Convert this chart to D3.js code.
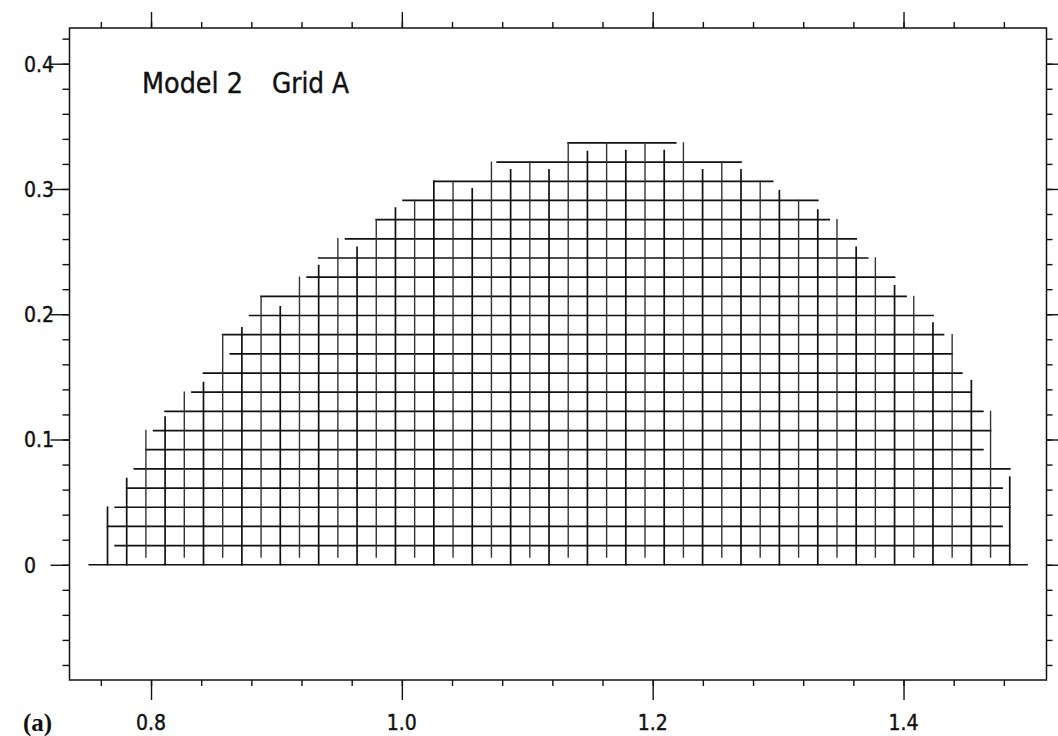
<!DOCTYPE html>
<html>
<head>
<meta charset="utf-8">
<script src="https://cdn.jsdelivr.net/npm/d3@7"></script>
<style>
    html, body { margin: 0; padding: 0; background: #fff; }
    svg { display: block; }
    .lbl { font-family: 'DejaVu Sans Condensed', 'DejaVu Sans', sans-serif; font-stretch: condensed; fill: #111; stroke: #111; stroke-width: 0.4; }
    .axis line { stroke: #111; stroke-width: 1.4; }
    .axis path { display: none; }
</style>
</head>
<body>
<svg id="chart"></svg>
<script>
'use strict';

/*
    Data  (grid lines in cell index units, one cell = (X_END - X_START) / CELLS)
*/

const X_START = 0.75;
const X_END   = 1.5;
const CELLS   = 49;

// horizontal lines, rows j = 1 .. 22
const ROW_START = [1.4, 1.0, 1.4, 2.0, 2.4, 3.0, 3.4, 4.0, 5.4, 6.0, 7.4,
                   7.0, 8.4, 9.0, 11.4, 12.0, 13.4, 15.0, 16.4, 18.0, 21.3, 25.0];
const ROW_END   = [48, 47.6, 48, 47.6, 48, 46.6, 47, 46.6, 46, 45.5, 45,
                   44.55, 44, 42.6, 42, 40.6, 40, 38.6, 38, 35.65, 34, 30.6];

// vertical lines, columns i = 1 .. 48
const COL_TOP  = [3, 4.5, 7, 7.7, 9, 9.5, 12, 12.35, 14, 13.45,
                  15, 15.6, 17, 16.55, 18, 18.6, 19, 20, 20, 19.6,
                  21, 20.6, 21, 20.6, 22, 21.55, 22, 21.6, 22, 21.6,
                  22, 20.6, 21, 20.6, 20, 19.5, 19, 18.5, 18, 16.55,
                  16, 14.55, 14, 12.6, 12, 9.6, 8, 4.57];
const COL_BASE = [0, 0, 0.4, 0, 0.4, 0, 0.4, 0, 0.4, 0,
                  0.4, 0, 0.4, 0, 0.4, 0, 0.4, 0, 0.4, 0,
                  0.4, 0, 0.4, 0, 0.4, 0, 0.4, 0, 0.4, 0,
                  0.4, 0, 0.4, 0, 0.4, 0, 0.4, 0, 0.4, 0,
                  0.4, 0, 0.4, 0, 0.4, 0, 0.4, 0];

// line along y = 0
const BASE_LINE = [0.05, 48.9];

const X_MAJOR  = [0.8, 1.0, 1.2, 1.4];
const X_LABELS = ['0.8', '1.0', '1.2', '1.4'];
const Y_MAJOR  = [0, 0.1, 0.2, 0.3, 0.4];
const Y_LABELS = ['0', '0.1', '0.2', '0.3', '0.4'];

const TITLE = ['Model 2', 'Grid A'];
const PANEL = '(a)';

/*
    Constants
*/

const WIDTH  = 1058;
const HEIGHT = 736;

const FRAME = Object.freeze({
    LEFT   : 69.5,
    RIGHT  : 1046.5,
    TOP    : 28,
    BOTTOM : 680
});

const CELL = (X_END - X_START) / CELLS;

const SVG = d3.select('#chart')
    .attr('width', WIDTH)
    .attr('height', HEIGHT);

/*
    Scales
*/

const x = d3.scaleLinear()
    .domain([0.735, 1.514])
    .range([FRAME.LEFT, FRAME.RIGHT]);

const y = d3.scaleLinear()
    .domain([-0.092, 0.4285])
    .range([FRAME.BOTTOM, FRAME.TOP]);

const gx = i => x(X_START + i * CELL);
const gy = j => y(j * CELL);

const X_MINOR = d3.range(0.76, 1.50, 0.04);
const Y_MINOR = d3.range(-0.08, 0.43, 0.02);

/*
    Axes (ticks only, frame drawn separately)
*/

function tickAxis(axisFn, scale, values, size, transform) {
    SVG.append('g')
        .attr('class', 'axis')
        .attr('transform', transform)
        .call(axisFn(scale).tickValues(values).tickSize(size).tickFormat(''));
}

tickAxis(d3.axisBottom, x, X_MINOR, 6,  `translate(0,${FRAME.BOTTOM})`);
tickAxis(d3.axisBottom, x, X_MAJOR, 20, `translate(0,${FRAME.BOTTOM})`);
tickAxis(d3.axisTop,    x, X_MINOR, 6,  `translate(0,${FRAME.TOP})`);
tickAxis(d3.axisTop,    x, X_MAJOR, 16, `translate(0,${FRAME.TOP})`);
tickAxis(d3.axisLeft,   y, Y_MINOR, 7,  `translate(${FRAME.LEFT},0)`);
tickAxis(d3.axisLeft,   y, Y_MAJOR, 19, `translate(${FRAME.LEFT},0)`);
tickAxis(d3.axisRight,  y, Y_MINOR, 6,  `translate(${FRAME.RIGHT},0)`);
tickAxis(d3.axisRight,  y, Y_MAJOR, 14, `translate(${FRAME.RIGHT},0)`);

SVG.append('rect')
    .attr('x', FRAME.LEFT)
    .attr('y', FRAME.TOP)
    .attr('width', FRAME.RIGHT - FRAME.LEFT)
    .attr('height', FRAME.BOTTOM - FRAME.TOP)
    .attr('fill', 'none')
    .attr('stroke', '#111')
    .attr('stroke-width', 1.5);

SVG.append('g').selectAll('text')
    .data(X_MAJOR)
    .join('text')
    .attr('class', 'lbl')
    .attr('x', d => x(d))
    .attr('y', 730)
    .attr('text-anchor', 'middle')
    .attr('font-size', 21)
    .text((d, k) => X_LABELS[k]);

SVG.append('g').selectAll('text')
    .data(Y_MAJOR)
    .join('text')
    .attr('class', 'lbl')
    .attr('x', 24)
    .attr('y', d => y(d) + 8)
    .attr('font-size', 21)
    .text((d, k) => Y_LABELS[k]);

/*
    Grid
*/

const GRID = SVG.append('g')
    .attr('stroke', '#111')
    .attr('stroke-linecap', 'square')
    .attr('fill', 'none');

const rows = ROW_START.map((s, k) => ({ j: k + 1, s: s, e: ROW_END[k] }));
rows.unshift({ j: 0, s: BASE_LINE[0], e: BASE_LINE[1] });

GRID.selectAll('line.row')
    .data(rows)
    .join('line')
    .attr('class', 'row')
    .attr('x1', d => gx(d.s))
    .attr('x2', d => gx(d.e))
    .attr('y1', d => gy(d.j))
    .attr('y2', d => gy(d.j))
    .attr('stroke-width', 1.7);

const cols = COL_TOP.map((t, k) => ({ i: k + 1, b: COL_BASE[k], t: t }));

GRID.selectAll('line.col')
    .data(cols)
    .join('line')
    .attr('class', 'col')
    .attr('x1', d => gx(d.i))
    .attr('x2', d => gx(d.i))
    .attr('y1', d => gy(d.b))
    .attr('y2', d => gy(d.t))
    .attr('stroke', d => d.i % 2 && d.i > 1 ? '#333' : '#111')
    .attr('stroke-width', d => d.i % 2 && d.i > 1 ? 1.4 : 1.7);

/*
    Texts
*/

SVG.append('text')
    .attr('class', 'lbl')
    .attr('x', 142)
    .attr('y', 93)
    .attr('font-size', 29)
    .attr('stroke-width', 0.7)
    .attr('textLength', 101)
    .attr('lengthAdjust', 'spacingAndGlyphs')
    .text(TITLE[0]);

SVG.append('text')
    .attr('class', 'lbl')
    .attr('x', 272)
    .attr('y', 93)
    .attr('font-size', 29)
    .attr('stroke-width', 0.7)
    .attr('textLength', 77)
    .attr('lengthAdjust', 'spacingAndGlyphs')
    .text(TITLE[1]);

SVG.append('text')
    .attr('x', 23)
    .attr('y', 731)
    .attr('font-family', "'Liberation Serif', serif")
    .attr('font-weight', 'bold')
    .attr('font-size', 25)
    .attr('fill', '#111')
    .text(PANEL);
</script>
</body>
</html>
